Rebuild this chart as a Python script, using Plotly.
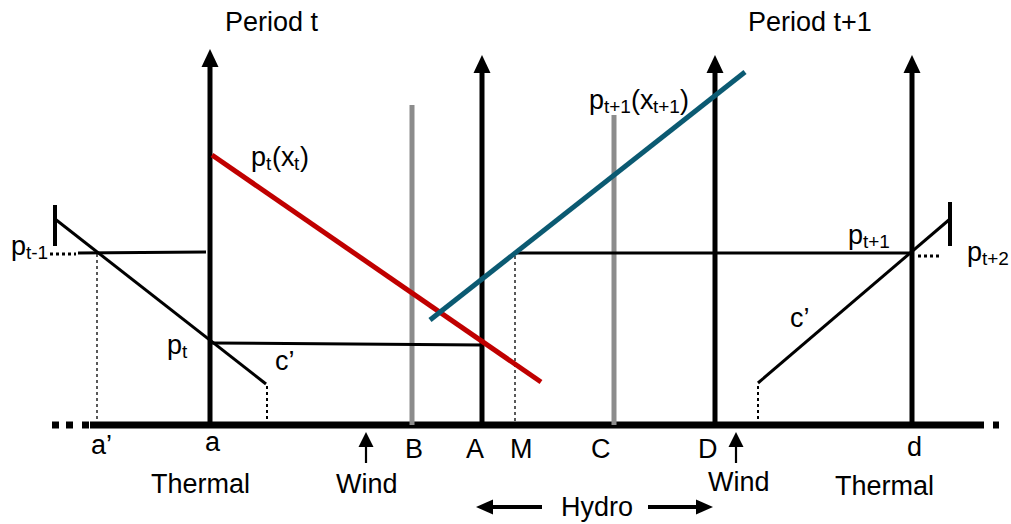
import plotly.graph_objects as go

W, H = 1011, 524
FONT = "Arial, Liberation Sans, sans-serif"

# ---- diagram geometry (pixel-space data) ----
base_y = 425
base_x = [90, 978]
base_dash_left = [52, 66, 82]
base_dash_right = [978, 993]

axis_x = [210, 482, 715, 912]
axis_tip = [49, 55, 55, 55]

gray_x = [412, 614]
gray_top = [105, 115]

red_x = [212, 541]
red_y = [155, 382]
blue_x = [430, 745]
blue_y = [320, 72]

# left thermal (period t)
lt_tick_x = [55, 55]; lt_tick_y = [205, 246]
lt_diag_x = [55, 266]; lt_diag_y = [219, 384]
lt_prev_x = [78, 206]; lt_prev_y = [253, 252]
lt_prev_dots_x = [50, 76]; lt_prev_dots_y = [254, 254]
lt_pt_x = [212, 482]; lt_pt_y = [343, 345]
lt_vdot1_x = [97, 97]; lt_vdot1_y = [254, 423]
lt_vdot2_x = [267, 267]; lt_vdot2_y = [386, 423]

# right thermal (period t+1)
rt_tick_x = [950, 950]; rt_tick_y = [202, 246]
rt_diag_x = [758, 950]; rt_diag_y = [383, 219]
rt_line_x = [515, 912]; rt_line_y = [253, 253]
rt_dots_x = [918, 942]; rt_dots_y = [256, 256]
rt_vdot1_x = [515, 515]; rt_vdot1_y = [256, 423]
rt_vdot2_x = [758, 758]; rt_vdot2_y = [386, 423]

wind_x = [366, 736]
wind_tail, wind_tip = 463, 432

hydro_left = [542, 476]
hydro_right = [648, 713]
hydro_y = 507

FS = 27
SUB = 19
SUB_DY = 6

# plain labels: (text, x, y)
labels = [
    ("Period t", 272, 22),
    ("Period t+1", 810, 22),
    ("c’", 285, 361),
    ("c’", 800, 318),
    ("a’", 101, 445),
    ("a", 213, 442),
    ("B", 414, 449),
    ("A", 475, 449),
    ("M", 521, 449),
    ("C", 601, 449),
    ("D", 708, 449),
    ("d", 914, 447),
    ("Thermal", 200, 484),
    ("Wind", 367, 484),
    ("Wind", 739, 482),
    ("Thermal", 884, 486),
    ("Hydro", 597, 507),
]

# labels with subscripts: (pieces [(text, is_sub)], center x, y)
sub_labels = [
    ([("p", 0), ("t", 1), ("(x", 0), ("t", 1), (")", 0)], 279, 157),
    ([("p", 0), ("t+1", 1), ("(x", 0), ("t+1", 1), (")", 0)], 638, 100),
    ([("p", 0), ("t-1", 1)], 29, 246),
    ([("p", 0), ("t", 1)], 176, 345),
    ([("p", 0), ("t+1", 1)], 868, 235),
    ([("p", 0), ("t+2", 1)], 987, 252),
]

CHAR_W = {"p": .556, "t": .278, "(": .333, ")": .333, "x": .5, "+": .584,
          "-": .333, "1": .556, "2": .556}

fig = go.Figure()


def seg(xs, ys, color="black", width=3, dash="solid"):
    fig.add_trace(go.Scatter(x=xs, y=ys, mode="lines",
                             line=dict(color=color, width=width, dash=dash),
                             hoverinfo="skip", showlegend=False))


def head(tx, ty, direction, w, h):
    # triangle arrowhead with tip at (tx, ty) in data units
    if direction == "up":
        pts = [(tx, ty), (tx - w / 2, ty + h), (tx + w / 2, ty + h)]
    elif direction == "left":
        pts = [(tx, ty), (tx + h, ty - w / 2), (tx + h, ty + w / 2)]
    else:
        pts = [(tx, ty), (tx - h, ty - w / 2), (tx - h, ty + w / 2)]
    path = "M" + " L".join(f"{px},{py}" for px, py in pts) + " Z"
    fig.add_shape(type="path", path=path, xref="x", yref="y",
                  fillcolor="black", line=dict(width=0))


# baseline
seg(base_x, [base_y, base_y], width=7)
for dx in base_dash_left:
    seg([dx, dx + 7], [base_y, base_y], width=7)
for dx in base_dash_right:
    seg([dx, dx + 6], [base_y, base_y], width=7)

# vertical axes with arrowheads
for x, tip in zip(axis_x, axis_tip):
    seg([x, x], [base_y, tip + 14], width=5)
    head(x, tip, "up", 17, 18)

# gray bars
for x, top in zip(gray_x, gray_top):
    seg([x, x], [base_y, top], color="#8c8c8c", width=5)

# thermal left
seg(lt_tick_x, lt_tick_y, width=4)
seg(lt_diag_x, lt_diag_y, width=3)
seg(lt_prev_x, lt_prev_y, width=3)
seg(lt_prev_dots_x, lt_prev_dots_y, width=3, dash="dot")
seg(lt_pt_x, lt_pt_y, width=3)
seg(lt_vdot1_x, lt_vdot1_y, width=1.3, dash="dot")
seg(lt_vdot2_x, lt_vdot2_y, width=2, dash="dot")

# thermal right
seg(rt_tick_x, rt_tick_y, width=4)
seg(rt_diag_x, rt_diag_y, width=3)
seg(rt_line_x, rt_line_y, width=3)
seg(rt_dots_x, rt_dots_y, width=3, dash="dot")
seg(rt_vdot1_x, rt_vdot1_y, width=1.3, dash="dot")
seg(rt_vdot2_x, rt_vdot2_y, width=2, dash="dot")

# price curves
seg(red_x, red_y, color="#c00000", width=5)
seg(blue_x, blue_y, color="#0b5a72", width=5)

# wind arrows
for x in wind_x:
    seg([x, x], [wind_tail, wind_tip + 12], width=2.2)
    head(x, wind_tip, "up", 15, 15)

# hydro arrows
seg([hydro_left[0], hydro_left[1] + 14], [hydro_y, hydro_y], width=4)
head(hydro_left[1], hydro_y, "left", 15, 17)
seg([hydro_right[0], hydro_right[1] - 14], [hydro_y, hydro_y], width=4)
head(hydro_right[1], hydro_y, "right", 15, 17)

for text, x, y in labels:
    fig.add_annotation(x=x, y=y, text=text, showarrow=False,
                       font=dict(family=FONT, size=FS, color="black"),
                       xanchor="center", yanchor="middle")


def piece_w(text, is_sub):
    size = SUB if is_sub else FS
    return sum(CHAR_W[c] for c in text) * size


for pieces, cx, cy in sub_labels:
    total = sum(piece_w(t, s) for t, s in pieces)
    x = cx - total / 2
    for t, s in pieces:
        fig.add_annotation(x=x, y=cy + (SUB_DY if s else 0), text=t, showarrow=False,
                           font=dict(family=FONT, size=SUB if s else FS, color="black"),
                           xanchor="left", yanchor="middle", borderpad=0)
        x += piece_w(t, s)

fig.update_xaxes(range=[0, W], visible=False, fixedrange=True)
fig.update_yaxes(range=[H, 0], visible=False, fixedrange=True)
fig.update_layout(width=W, height=H, margin=dict(l=0, r=0, t=0, b=0),
                  plot_bgcolor="white", paper_bgcolor="white")

fig.write_html("out.html", config={"displayModeBar": False},
               post_script="document.body.style.margin='0';")
